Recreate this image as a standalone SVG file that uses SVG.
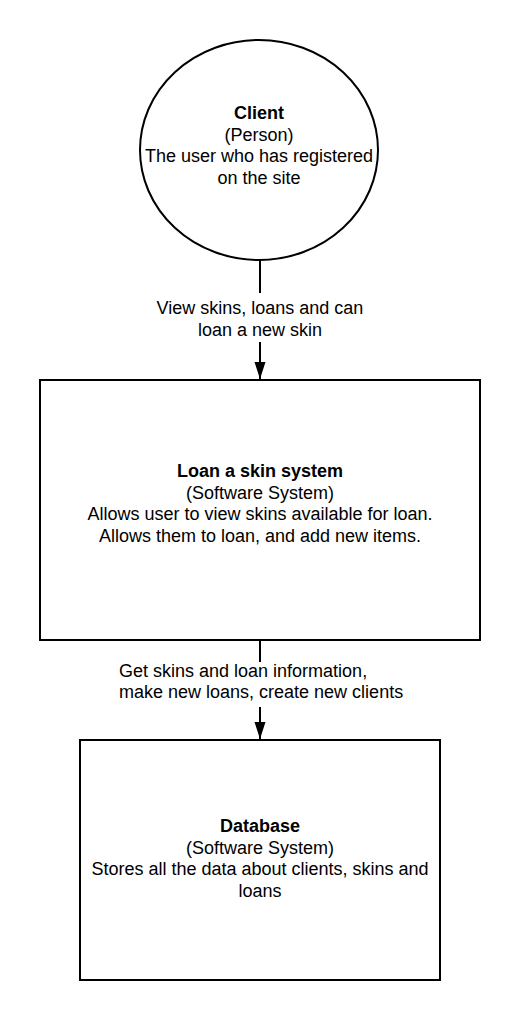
<svg xmlns="http://www.w3.org/2000/svg" width="520" height="1020" viewBox="0 0 520 1020">
<style>
.shape{fill:#ffffff;stroke:#000000;stroke-width:2}
.t{font-family:"Liberation Sans",Arial,sans-serif;font-size:18px;fill:#000000;text-anchor:middle}
.b{font-weight:bold}
.edge{stroke:#000000;stroke-width:2;fill:none}
.lbl{font-family:"Liberation Sans",Arial,sans-serif;font-size:18px;fill:#000000}
</style>
<defs>
<marker id="arrow" markerUnits="userSpaceOnUse" markerWidth="18" markerHeight="12" viewBox="0 -6 18 12" refX="17" refY="0" orient="auto">
<path d="M0,-5.5 L17,0 L0,5.5 Z" fill="#000000"/>
</marker>
</defs>
<rect width="520" height="1020" fill="#ffffff"/>
<g id="connectors">
<g id="edge-client-system">
<line class="edge" x1="260" y1="260" x2="260" y2="293"/>
<line class="edge" x1="260" y1="342" x2="260" y2="379" marker-end="url(#arrow)"/>
<text class="lbl" x="260" y="314" text-anchor="middle">View skins, loans and can</text>
<text class="lbl" x="260" y="336" text-anchor="middle">loan a new skin</text>
</g>
<g id="edge-system-database">
<line class="edge" x1="260" y1="640" x2="260" y2="662"/>
<line class="edge" x1="260" y1="707" x2="260" y2="739" marker-end="url(#arrow)"/>
<text class="lbl" x="119" y="676.5">Get skins and loan information,</text>
<text class="lbl" x="119" y="698">make new loans, create new clients</text>
</g>
</g>
<g id="client">
<ellipse class="shape" cx="259" cy="150" rx="119" ry="110"/>
<text class="t b" x="259" y="119">Client</text>
<text class="t" x="259" y="140.6">(Person)</text>
<text class="t" x="259" y="162.2">The user who has registered</text>
<text class="t" x="259" y="183.8">on the site</text>
</g>
<g id="loan-system">
<rect class="shape" x="40" y="380" width="440" height="260"/>
<text class="t b" x="260" y="477">Loan a skin system</text>
<text class="t" x="260" y="498.6">(Software System)</text>
<text class="t" x="260" y="520.2">Allows user to view skins available for loan.</text>
<text class="t" x="260" y="541.8">Allows them to loan, and add new items.</text>
</g>
<g id="database">
<rect class="shape" x="80" y="740" width="360" height="240"/>
<text class="t b" x="260" y="832">Database</text>
<text class="t" x="260" y="853.6">(Software System)</text>
<text class="t" x="260" y="875.2">Stores all the data about clients, skins and</text>
<text class="t" x="260" y="896.8">loans</text>
</g>
</svg>
